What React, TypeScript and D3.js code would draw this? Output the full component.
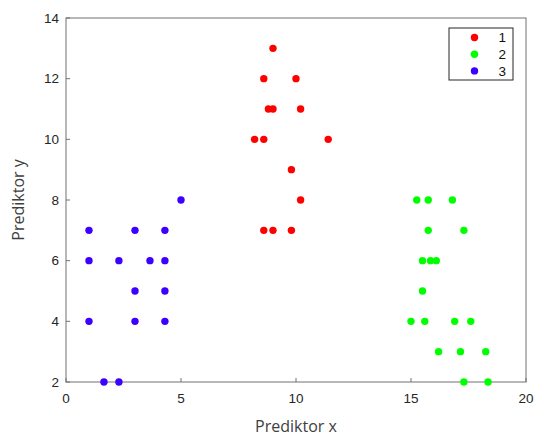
import React from "react";
import * as d3 from "d3";

const groupNames = ["1", "2", "3"];
const groupColors = ["#ff0000", "#00ff00", "#3c00ff"];

const redX = [9, 8.6, 10, 8.8, 9, 10.2, 8.2, 8.6, 11.4, 9.8, 10.2, 8.6, 9, 9.8];
const redY = [13, 12, 12, 11, 11, 11, 10, 10, 10, 9, 8, 7, 7, 7];

const greenX = [15.25, 15.75, 16.8, 15.75, 17.3, 15.5, 15.85, 16.1, 15.5, 15.0, 15.6, 16.9, 17.6, 16.2, 17.15, 18.25, 17.3, 18.35];
const greenY = [8, 8, 8, 7, 7, 6, 6, 6, 5, 4, 4, 4, 4, 3, 3, 3, 2, 2];

const blueX = [5, 1, 3, 4.3, 1, 2.3, 3.65, 4.3, 3, 4.3, 1, 3, 4.3, 1.65, 2.3];
const blueY = [8, 7, 7, 7, 6, 6, 6, 6, 5, 5, 4, 4, 4, 2, 2];

const xTicks = [0, 5, 10, 15, 20];
const yTicks = [2, 4, 6, 8, 10, 12, 14];

const W = 536;
const H = 438;
const plot = { left: 66, right: 526, top: 18, bottom: 382 };

export default function App() {
  const x = d3.scaleLinear().domain([0, 20]).range([plot.left, plot.right]);
  const y = d3.scaleLinear().domain([2, 14]).range([plot.bottom, plot.top]);

  const groups = [
    { xs: redX, ys: redY },
    { xs: greenX, ys: greenY },
    { xs: blueX, ys: blueY },
  ];

  const axisColor = "#707070";
  const tickText = "#262626";
  const tickFont = "Liberation Sans, Arial, sans-serif";
  const r = 3.7;

  const legend = { x: 449, y: 28, w: 64, h: 52 };

  return (
    <svg
      width={W}
      height={H}
      style={{ position: "absolute", left: 0, top: 0, background: "#fff" }}
    >
      <rect x={0} y={0} width={W} height={H} fill="#fff" />
      {/* axes box */}
      <rect
        x={plot.left}
        y={plot.top}
        width={plot.right - plot.left}
        height={plot.bottom - plot.top}
        fill="none"
        stroke={axisColor}
        strokeWidth={1}
      />
      {/* x ticks */}
      {xTicks.map((t) => (
        <g key={"xt" + t}>
          <line x1={x(t)} x2={x(t)} y1={plot.bottom} y2={plot.bottom - 4} stroke={axisColor} />
          <text
            x={x(t)}
            y={plot.bottom + 21}
            textAnchor="middle"
            fontFamily={tickFont}
            fontSize={13.5}
            fill={tickText}
          >
            {t}
          </text>
        </g>
      ))}
      {/* y ticks */}
      {yTicks.map((t) => (
        <g key={"yt" + t}>
          <line x1={plot.left} x2={plot.left + 4} y1={y(t)} y2={y(t)} stroke={axisColor} />
          <text
            x={plot.left - 7}
            y={y(t)}
            dy="0.35em"
            textAnchor="end"
            fontFamily={tickFont}
            fontSize={13.5}
            fill={tickText}
          >
            {t}
          </text>
        </g>
      ))}
      {/* axis labels */}
      <text
        x={(plot.left + plot.right) / 2}
        y={432}
        textAnchor="middle"
        fontFamily="Open Sans, sans-serif"
        fontSize={16}
        fill="#404040"
      >
        Prediktor x
      </text>
      <text
        transform={`translate(24, ${(plot.top + plot.bottom) / 2}) rotate(-90)`}
        textAnchor="middle"
        fontFamily="Open Sans, sans-serif"
        fontSize={16}
        fill="#404040"
      >
        Prediktor y
      </text>
      {/* points */}
      {groups.map((g, gi) =>
        g.xs.map((xv, i) => (
          <circle
            key={`p${gi}-${i}`}
            cx={x(xv)}
            cy={y(g.ys[i])}
            r={r}
            fill={groupColors[gi]}
          />
        ))
      )}
      {/* legend */}
      <rect
        x={legend.x}
        y={legend.y}
        width={legend.w}
        height={legend.h}
        fill="#fff"
        stroke="#262626"
        strokeWidth={1}
      />
      {groupNames.map((name, i) => (
        <g key={"lg" + name}>
          <circle cx={474.5} cy={37.5 + i * 16.7} r={r} fill={groupColors[i]} />
          <text
            x={506}
            y={37.5 + i * 16.7}
            dy="0.36em"
            textAnchor="end"
            fontFamily={tickFont}
            fontSize={13.5}
            fill="#111"
          >
            {name}
          </text>
        </g>
      ))}
    </svg>
  );
}
